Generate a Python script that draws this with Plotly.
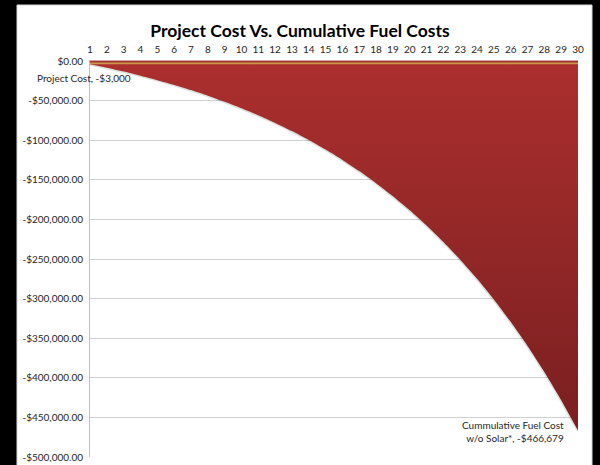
import plotly.graph_objects as go

years = list(range(1, 31))
fuel_cost = [-4119, -8567, -13371, -18560, -24163, -30215, -36751, -43810, -51434, -59669,
             -68562, -78170, -88540, -99740, -111840, -124900, -139020, -154260, -170720, -188500,
             -207690, -228430, -250820, -274990, -301110, -329320, -359780, -392680, -428220, -466679]
project_cost = [-3000] * 30
y_ticks = [0, -50000, -100000, -150000, -200000, -250000, -300000, -350000, -400000, -450000, -500000]
y_tick_text = ["$0.00", "-$50,000.00", "-$100,000.00", "-$150,000.00", "-$200,000.00", "-$250,000.00",
               "-$300,000.00", "-$350,000.00", "-$400,000.00", "-$450,000.00", "-$500,000.00"]

FONT = "Lato"
TXT = "#262626"

fig = go.Figure()
# soft shadow edge of the fuel curve
fig.add_trace(go.Scatter(x=years, y=fuel_cost, mode="lines",
                         line=dict(color="rgba(0,0,0,0.13)", width=3, shape="spline", smoothing=0.6),
                         hoverinfo="skip", showlegend=False))
fig.add_trace(go.Scatter(x=years, y=fuel_cost, mode="lines", name="Cummulative Fuel Cost w/o Solar*",
                         line=dict(width=0, shape="spline", smoothing=0.6),
                         fill="tozeroy",
                         fillgradient=dict(type="vertical",
                                           colorscale=[[0, "#7a1f20"], [1, "#ab2f2e"]]),
                         showlegend=False))
fig.add_trace(go.Scatter(x=years, y=project_cost, mode="lines", name="Project Cost",
                         line=dict(color="#c9964e", width=1.6),
                         fill="tozeroy", fillcolor="#a8302e", showlegend=False))

fig.update_layout(
    width=600, height=465,
    paper_bgcolor="black", plot_bgcolor="white",
    margin=dict(l=90, r=22, t=61, b=8),
    font=dict(family=FONT, size=10, color=TXT),
    title=dict(text="<b>Project Cost Vs. Cumulative Fuel Costs</b>", x=0.5, xref="container",
               xanchor="center", y=1 - 31 / 465, yanchor="middle", automargin=False,
               font=dict(family=FONT, size=17.5, color="black")),
    xaxis=dict(side="top", range=[1, 30], tickvals=years, ticktext=[str(y) for y in years],
               showgrid=False, zeroline=False, showline=True, linecolor="#d6a3a3", linewidth=1,
               ticks="", tickfont=dict(size=10, color=TXT), automargin=False, ticklabelstandoff=3),
    yaxis=dict(range=[-500000, 0], tickvals=y_ticks, ticktext=y_tick_text,
               showgrid=True, gridcolor="#d0d0d0", gridwidth=1, zeroline=False,
               showline=True, linecolor="#bfbfbf", linewidth=1, ticks="",
               tickfont=dict(size=10, color=TXT), automargin=False, ticklabelstandoff=4),
    shapes=[dict(type="rect", xref="paper", yref="paper",
                 x0=(17 - 90) / 488, x1=(592 - 90) / 488, y0=-0.1, y1=(457 - 5) / 396,
                 fillcolor="white", line=dict(color="#d9d9d9", width=1), layer="below")],
    annotations=[
        dict(text="Project Cost, -$3,000", xref="paper", yref="paper",
             x=(84 - 90) / 488, y=(457 - 78) / 396, xanchor="center", yanchor="middle",
             showarrow=False, font=dict(size=10, color=TXT)),
        dict(text="Cummulative Fuel Cost<br>w/o Solar*, -$466,679", xref="paper", yref="paper",
             x=(566 - 90) / 488, y=(457 - 431) / 396, xanchor="right", yanchor="middle",
             align="right", showarrow=False, font=dict(size=10, color=TXT)),
    ],
)

fig.write_html("out.html", config={"displayModeBar": False},
               post_script="document.body.style.margin='0';document.body.style.background='black';")
